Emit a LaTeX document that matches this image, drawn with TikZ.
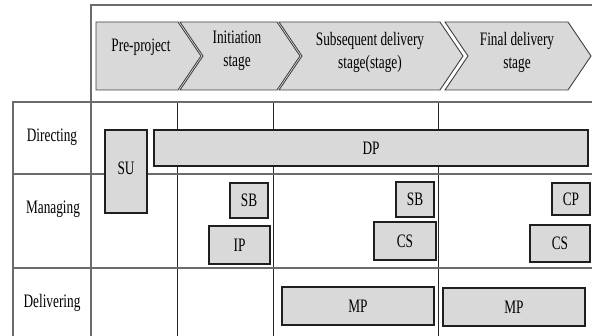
\documentclass[tikz,border=0pt]{standalone}
\usepackage{fontspec}
\setmainfont{Liberation Serif}[FakeStretch=0.70]
\begin{document}
\begin{tikzpicture}[x=1pt,y=-1pt,
  frame/.style={draw=black!58,line width=1.4pt},
  colline/.style={draw=black!85,line width=0.8pt},
  chevron/.style={draw=black!75,line width=0.9pt,fill=black!15,line join=miter},
  lbl/.style={inner sep=0pt,align=center,font=\fontsize{19}{23}\selectfont},
  procbox/.style={draw=black!88,line width=1.7pt,fill=black!15,inner sep=0pt,outer sep=0pt,
    font=\fontsize{19}{23}\selectfont}]
\useasboundingbox (0,0) rectangle (592,336);

% stage chevrons
\draw[chevron] (96,22) -- (178,22) -- (201,56) -- (178,90) -- (96,90) -- cycle;
\draw[chevron] (180,22) -- (277,22) -- (300,56) -- (277,90) -- (180,90) -- (203,56) -- cycle;
\draw[chevron] (279,22) -- (440,22) -- (463,56) -- (440,90) -- (279,90) -- (302,56) -- cycle;
\draw[chevron] (445,22) -- (568,22) -- (591,56) -- (568,90) -- (445,90) -- (468,56) -- cycle;
\node[lbl] (pre)  at (141,47) {Pre-project};
\node[lbl] (init) at (237,51) {Initiation\\stage};
\node[lbl] (subs) at (370,52) {Subsequent delivery\\stage(stage)};
\node[lbl] (fin)  at (517,52) {Final delivery\\stage};

% grid
\draw[colline] (177,102) -- (177,336);
\draw[colline] (273,102) -- (273,336);
\draw[colline] (438,102) -- (438,336);
\draw[frame] (592,5) -- (91,5) -- (91,336);
\draw[frame] (13,336) -- (13,102) -- (592,102);
\draw[frame] (13,174) -- (592,174);
\draw[frame] (13,268) -- (592,268);

% row labels
\node[lbl] (dir) at (52,137) {Directing};
\node[lbl] (man) at (53,209) {Managing};
\node[lbl] (del) at (52,303) {Delivering};

% processes
\node[procbox,minimum width=42pt,minimum height=83pt] (su) at (126,171.5) {\raisebox{7pt}{SU}};
\node[procbox,minimum width=434pt,minimum height=36pt] (dp) at (371,148) {DP};
\node[procbox,minimum width=38pt,minimum height=35pt] (sb1) at (249,200.5) {SB};
\node[procbox,minimum width=61pt,minimum height=38pt] (ip) at (239.5,245) {IP};
\node[procbox,minimum width=38pt,minimum height=35pt] (sb2) at (415,199.5) {SB};
\node[procbox,minimum width=62pt,minimum height=38pt] (cs1) at (405,241) {CS};
\node[procbox,minimum width=38pt,minimum height=32pt] (cp) at (571,199) {CP};
\node[procbox,minimum width=60pt,minimum height=37pt] (cs2) at (560,243.5) {CS};
\node[procbox,minimum width=152pt,minimum height=38pt] (mp1) at (358,306) {MP};
\node[procbox,minimum width=142pt,minimum height=38pt] (mp2) at (514,307) {MP};
\end{tikzpicture}
\end{document}
